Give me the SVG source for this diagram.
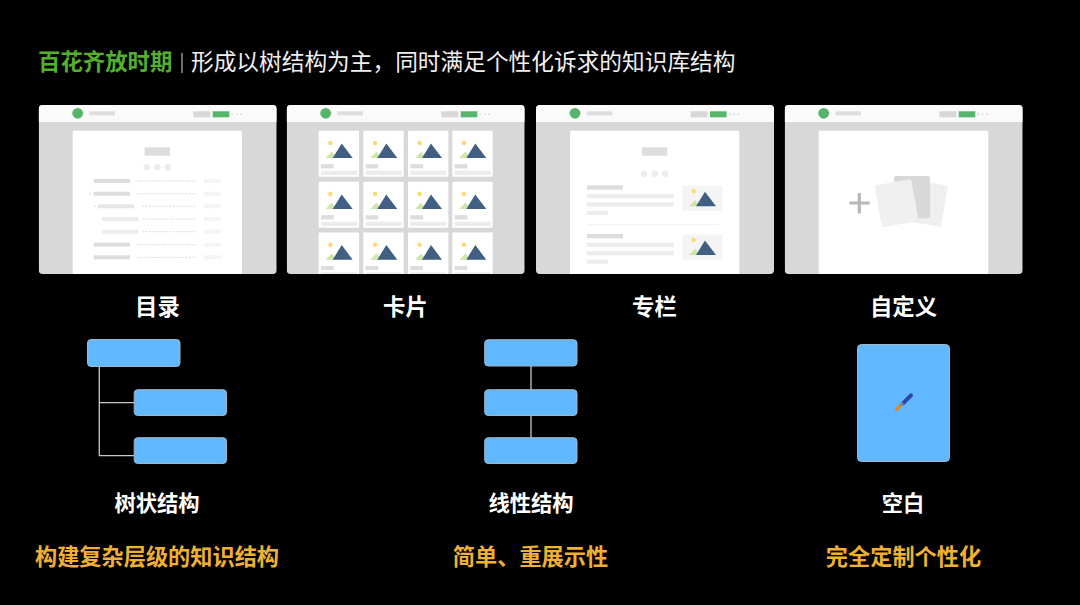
<svg xmlns="http://www.w3.org/2000/svg" width="1080" height="605" viewBox="0 0 1080 605">
<style>
text{font-family:"Noto Sans CJK SC","Noto Sans",sans-serif;}
.lead{font-size:22.4px;font-weight:700;fill:#55ae2e}
.title{font-size:22.7px;font-weight:400;fill:#f0f0f0}
.cap{font-size:22.4px;font-weight:700;fill:#fff;text-anchor:middle}
.sub{font-size:21.3px;font-weight:700;fill:#fff;text-anchor:middle}
.note{font-size:22.2px;font-weight:700;fill:#f0b132;text-anchor:middle}
.box{fill:#61b8fe;stroke:#a3b6c6;stroke-width:1}
.link{fill:none;stroke:#c8c8c8;stroke-width:1.3}
.page{fill:#fff}
.d{fill:#ddd}.l{fill:#ececec}.f{fill:#f4f4f4}
.sun{fill:#ffd873}.hill{fill:#cfe5aa}.mt{fill:#3f5f82}
.dash{stroke:#dedede;stroke-width:1;stroke-dasharray:2.2 1.2;fill:none}
</style>
<defs>
<filter id="soft" x="-2%" y="-2%" width="104%" height="104%"><feGaussianBlur stdDeviation="0.35"/></filter>
<clipPath id="clip"><rect x="0" y="0" width="238" height="169" rx="4"/></clipPath>
<g id="chrome">
<rect x="0" y="0" width="238" height="169" fill="#d8d8d8"/>
<rect x="0" y="0" width="238" height="17" fill="#fafafa"/>
<circle cx="39" cy="8.3" r="5.4" fill="#55b56a"/>
<rect x="50.6" y="6.3" width="25.7" height="4" fill="#dedede"/>
<rect x="154.6" y="6.3" width="17" height="6" fill="#d8d8d8"/>
<rect x="174" y="6.3" width="16.6" height="6" fill="#55b56a"/>
<circle cx="193.6" cy="9.3" r="1" fill="#ddd"/><circle cx="198" cy="9.3" r="1" fill="#ddd"/><circle cx="202.3" cy="9.3" r="1" fill="#ddd"/>
</g>
<g id="pic">
<circle class="sun" cx="11.7" cy="12.3" r="2.2"/>
<polygon class="hill" points="7,27.3 13,21 18.7,27.3"/>
<polygon class="mt" points="14,27.3 23,12.7 34,27.3"/>
</g>
<g id="card">
<rect class="page" width="40.4" height="46" rx="1"/>
<use href="#pic"/>
<rect class="d" x="2.3" y="33.5" width="12.7" height="4.2"/>
<rect class="l" x="2.3" y="40" width="36" height="4.3"/>
</g>
<g id="article">
<rect class="d" x="0" y="0" width="36" height="4.3"/>
<rect class="l" x="0" y="8.7" width="86.7" height="4.3"/>
<rect class="l" x="0" y="17" width="86.7" height="4.3"/>
<rect class="l" x="0" y="25.7" width="21" height="4"/>
<rect class="f" x="95.3" y="0.4" width="40" height="25.4" rx="1"/>
<use href="#pic" transform="translate(95,-6.3)"/>
</g>
</defs>
<rect width="1080" height="605" fill="#000"/>

<g id="heading">
<text class="lead" x="38" y="70">百花齐放时期</text>
<rect x="181" y="53" width="2" height="20" fill="#6e6e6e"/>
<text class="title" x="191" y="70">形成以树结构为主，同时满足个性化诉求的知识库结构</text>
</g>

<g id="panel-catalog" transform="translate(38.7,105)" filter="url(#soft)">
<g clip-path="url(#clip)">
<use href="#chrome"/>
<g transform="translate(-38.7,-105)">
<rect class="page" x="72.7" y="130.7" width="169.3" height="150" rx="1"/>
<rect class="d" x="144.7" y="147.3" width="25.3" height="8.4"/>
<circle class="l" cx="146.7" cy="167.3" r="3.2"/><circle class="l" cx="157.3" cy="167.3" r="3.2"/><circle class="l" cx="168" cy="167.3" r="3.2"/>
<rect class="d" x="93.7" y="179" width="36.3" height="4"/>
<rect class="d" x="93.7" y="191.7" width="36.3" height="4"/>
<rect fill="#e6e6e6" x="98" y="204.3" width="36" height="4"/>
<rect class="l" x="102.3" y="217" width="36" height="4"/>
<rect class="l" x="102.3" y="229.7" width="36" height="4"/>
<rect class="d" x="93.7" y="242.7" width="36.3" height="4"/>
<rect class="d" x="93.7" y="255.3" width="36.3" height="4"/>
<circle cx="90.3" cy="193.7" r="0.8" fill="#ccc"/><circle cx="94.7" cy="206.3" r="0.8" fill="#ccc"/>
<path class="dash" d="M137.7 181H196M137.7 193.7H196M142 206.3H196M142 219H196M142 231.7H196M137.7 244.7H196M137.7 257.3H196"/>
<rect class="f" x="204" y="179" width="17" height="4"/><rect class="f" x="204" y="191.7" width="17" height="4"/><rect class="f" x="204" y="204.3" width="17" height="4"/><rect class="f" x="204" y="217" width="17" height="4"/><rect class="f" x="204" y="229.7" width="17" height="4"/><rect class="f" x="204" y="242.7" width="17" height="4"/><rect class="f" x="204" y="255.3" width="17" height="4"/>
</g>
</g>
</g>

<g id="panel-cards" transform="translate(286.7,105)" filter="url(#soft)">
<g clip-path="url(#clip)">
<use href="#chrome"/>
<g transform="translate(32,25.7)">
<use href="#card" x="0" y="0"/><use href="#card" x="44.6" y="0"/><use href="#card" x="89.3" y="0"/><use href="#card" x="133.6" y="0"/>
<use href="#card" x="0" y="51"/><use href="#card" x="44.6" y="51"/><use href="#card" x="89.3" y="51"/><use href="#card" x="133.6" y="51"/>
<use href="#card" x="0" y="101.7"/><use href="#card" x="44.6" y="101.7"/><use href="#card" x="89.3" y="101.7"/><use href="#card" x="133.6" y="101.7"/>
</g>
</g>
</g>

<g id="panel-column" transform="translate(536,105)" filter="url(#soft)">
<g clip-path="url(#clip)">
<use href="#chrome"/>
<g transform="translate(-536,-105)">
<rect class="page" x="570" y="130.7" width="169.3" height="150" rx="1"/>
<rect class="d" x="642" y="147.3" width="25.3" height="8.4"/>
<circle class="l" cx="644" cy="173.7" r="3.2"/><circle class="l" cx="654.7" cy="173.7" r="3.2"/><circle class="l" cx="665" cy="173.7" r="3.2"/>
<use href="#article" transform="translate(587,185.3)"/>
<rect x="587" y="224" width="132.3" height="0.8" fill="#f0f0f0"/>
<use href="#article" transform="translate(587,234)"/>
</g>
</g>
</g>

<g id="panel-custom" transform="translate(784.7,105)" filter="url(#soft)">
<g clip-path="url(#clip)">
<use href="#chrome"/>
<g transform="translate(-784.7,-105)">
<rect class="page" x="818.7" y="130.7" width="169.6" height="150" rx="1"/>
<path d="M859.3 193V213.5M849.3 203H869.7" stroke="#b8b8b8" stroke-width="3.2" fill="none"/>
<polygon points="912,180 947,186.5 940.5,226 905,220" fill="#efefef" stroke="#efefef" stroke-width="1.5" stroke-linejoin="round"/>
<rect x="894" y="176" width="36" height="42.3" rx="2" fill="#d8d8d8"/>
<polygon points="875.5,186 910.5,180 917.8,220.5 882.5,226.5" fill="#f0f0f0" stroke="#f0f0f0" stroke-width="1.5" stroke-linejoin="round"/>
</g>
</g>
</g>

<text class="cap" x="157.5" y="315">目录</text>
<text class="cap" x="405.5" y="315">卡片</text>
<text class="cap" x="654.5" y="315">专栏</text>
<text class="cap" x="903.5" y="315">自定义</text>

<g id="connectors">
<path class="link" d="M99.3 366V455.7H134M99.3 402.7H134"/>
<path class="link" d="M531 366V390M531 415.5V438"/>
</g>

<g id="tree-root"><rect class="box" x="87.5" y="339.5" width="92.5" height="27" rx="3.5"/></g>
<g id="tree-child-1"><rect class="box" x="134.2" y="389.7" width="92.3" height="25.8" rx="3.5"/></g>
<g id="tree-child-2"><rect class="box" x="134.2" y="437.7" width="92.3" height="25.8" rx="3.5"/></g>
<g id="line-1"><rect class="box" x="484.7" y="339.7" width="92.3" height="26.3" rx="3.5"/></g>
<g id="line-2"><rect class="box" x="484.7" y="389.7" width="92.3" height="25.8" rx="3.5"/></g>
<g id="line-3"><rect class="box" x="484.7" y="437.7" width="92.3" height="25.8" rx="3.5"/></g>
<g id="blank">
<rect class="box" x="857.5" y="344.5" width="92" height="117" rx="4"/>
<path d="M903 403.3L911 395.3" stroke="#2f45a8" stroke-width="4" stroke-linecap="round"/>
<path d="M899.7 406.3L903 403" stroke="#7d8a95" stroke-width="3"/>
<path d="M896.8 409.2L899.2 406.8" stroke="#e08c1e" stroke-width="3.6" stroke-linecap="round"/>
</g>

<text class="sub" x="157" y="511">树状结构</text>
<text class="sub" x="531" y="511">线性结构</text>
<text class="sub" x="903" y="511">空白</text>
<text class="note" x="157" y="565">构建复杂层级的知识结构</text>
<text class="note" x="530.5" y="565">简单、重展示性</text>
<text class="note" x="903.5" y="565">完全定制个性化</text>
</svg>
